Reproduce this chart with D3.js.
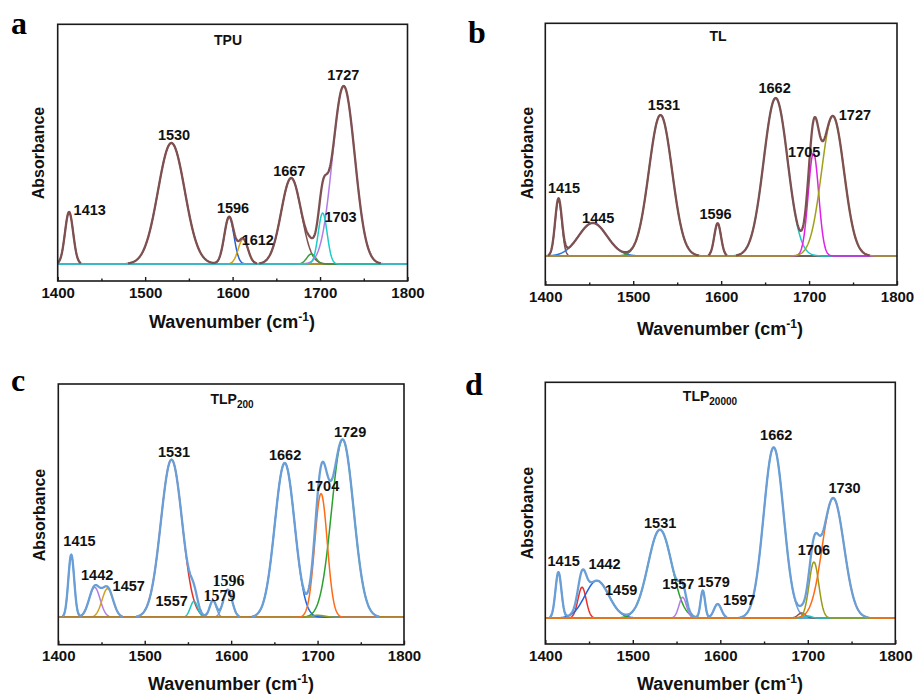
<!DOCTYPE html>
<html>
<head>
<meta charset="utf-8">
<script src="https://cdn.jsdelivr.net/npm/d3@7"></script>
<style>
  body { margin: 0; background: #fff; }
  svg { display: block; }
</style>
</head>
<body>
<svg id="chart" width="914" height="696"></svg>
<script>
// fitted bands for each sample: centre (cm-1), height (a.u.), FWHM (cm-1)
// the last band of each list is the one whose line shows along the baseline
const tpuCentres = [1413, 1530, 1596, 1612, 1667, 1690, 1727, 1703];
const tpuHeights = [0.52, 1.21, 0.47, 0.25, 0.86, 0.10, 1.78, 0.51];
const tpuWidths  = [11, 36, 13, 13, 27, 12, 30, 12];

const tlCentres = [1415, 1454, 1531, 1596, 1662, 1705, 1727];
const tlHeights = [0.56, 0.33, 1.41, 0.327, 1.58, 1.03, 1.40];
const tlWidths  = [9, 38, 31, 9, 32, 14, 30];

const tlp200Centres = [1415, 1442, 1457, 1531, 1557, 1579, 1596, 1662, 1729, 1700, 1704];
const tlp200Heights = [0.627, 0.30, 0.287, 1.577, 0.16, 0.167, 0.277, 1.543, 1.777, 0.02, 1.237];
const tlp200Widths  = [8, 15, 15, 29, 10, 9, 12, 27, 30, 20, 17];

const tlp20000Centres = [1415, 1442, 1459, 1531, 1557, 1580, 1597, 1661, 1693, 1700, 1707, 1729];
const tlp20000Heights = [0.457, 0.307, 0.373, 0.883, 0.207, 0.273, 0.14, 1.707, 0.05, 0.02, 0.56, 1.2];
const tlp20000Widths  = [8, 11, 32, 32, 10, 6, 10, 27, 10, 10, 13, 29];

// peak labels and where they sit (wavenumber, absorbance)
const tpuLabels = ["1413", "1530", "1596", "1612", "1667", "1703", "1727"];
const tpuLabelAt = [[1436.6, 0.49], [1533, 1.24], [1600.5, 0.507], [1628.8, 0.19], [1664.8, 0.883], [1723.4, 0.423], [1726.6, 1.84]];

const tlLabels = ["1415", "1445", "1531", "1596", "1662", "1705", "1727"];
const tlLabelAt = [[1421.3, 0.627], [1460.2, 0.333], [1535, 1.46], [1593.6, 0.367], [1660.8, 1.627], [1694.5, 0.993], [1752.1, 1.36]];

const tlp200Labels = ["1415", "1442", "1457", "1531", "1557", "1579", "1596", "1662", "1704", "1729"];
const tlp200LabelAt = [[1424.5, 0.71], [1445, 0.376], [1481.5, 0.266], [1533.9, 1.6], [1531.2, 0.11], [1586.6, 0.16], [1596.8, 0.31], [1662.4, 1.576], [1706.4, 1.266], [1737.6, 1.8]];

const tlp20000Labels = ["1415", "1442", "1459", "1531", "1557", "1579", "1597", "1662", "1706", "1730"];
const tlp20000LabelAt = [[1421, 0.517], [1467.7, 0.49], [1486.7, 0.227], [1531.3, 0.9], [1552, 0.293], [1592.4, 0.307], [1621.6, 0.127], [1663.9, 1.783], [1706.9, 0.627], [1742, 1.25]];

const majorTicks = [1400, 1500, 1600, 1700, 1800];
const minorTicks = [1450, 1550, 1650, 1750];

const brown = "#7f5050";
const lightBlue = "#6a9ed6";

const panels = [
  { letter: "a", title: "TPU", sub: "", left: 57.7, top: 24.3, right: 407.5, bottom: 281, base: 264,
    letterX: 11, letterY: 34, titleX: 228, titleY: 45, yTitleX: 44, yTitleY: 153, xTitleX: 232, xTitleY: 328,
    centres: tpuCentres, heights: tpuHeights, widths: tpuWidths, labels: tpuLabels, labelAt: tpuLabelAt,
    envelope: brown, serifLabels: [],
    colors: [brown, brown, "#2060d8", "#d4a010", brown, "#3a9a3a", "#b27ce6", "#1ccaca"] },
  { letter: "b", title: "TL", sub: "", left: 545.3, top: 23.3, right: 897, bottom: 285, base: 256,
    letterX: 468, letterY: 43, titleX: 718, titleY: 41, yTitleX: 533, yTitleY: 153, xTitleX: 720, xTitleY: 335,
    centres: tlCentres, heights: tlHeights, widths: tlWidths, labels: tlLabels, labelAt: tlLabelAt,
    envelope: brown, serifLabels: [],
    colors: [brown, "#2a78d8", "#3a9a3a", brown, "#18c8c8", "#e020e8", "#a0a018"] },
  { letter: "c", title: "TLP", sub: "200", left: 58.3, top: 384, right: 404, bottom: 644.7, base: 617.3,
    letterX: 11, letterY: 391, titleX: 232, titleY: 404, yTitleX: 45, yTitleY: 515, xTitleX: 231, xTitleY: 690,
    centres: tlp200Centres, heights: tlp200Heights, widths: tlp200Widths, labels: tlp200Labels, labelAt: tlp200LabelAt,
    envelope: lightBlue, serifLabels: ["1579", "1596"],
    colors: [lightBlue, "#b07ee2", "#d4a020", "#e8302a", "#1cc4c4", lightBlue, lightBlue, "#2068e0", "#2ca02c", "#8a9a20", "#ff6a14"] },
  { letter: "d", title: "TLP", sub: "20000", left: 545.3, top: 382.3, right: 895.3, bottom: 644, base: 618,
    letterX: 465, letterY: 395, titleX: 710, titleY: 401, yTitleX: 533, yTitleY: 513, xTitleX: 720, xTitleY: 690,
    centres: tlp20000Centres, heights: tlp20000Heights, widths: tlp20000Widths, labels: tlp20000Labels, labelAt: tlp20000LabelAt,
    envelope: lightBlue, serifLabels: [],
    colors: [lightBlue, "#e8302a", "#2060e0", "#2ca02c", "#b07ee2", lightBlue, lightBlue, lightBlue, "#8c564b", "#1cc4c4", "#9a9a18", "#ff6a14"] }
];

const svg = d3.select("#chart");
const sans = "'Liberation Sans', Arial, sans-serif";
const serif = "'Liberation Serif', 'Times New Roman', serif";

// sample grid across the plotted range
const grid = d3.range(1400, 1800.01, 0.5);

function band(c, h, w) {
  return v => h * Math.exp(-4 * Math.LN2 * ((v - c) / w) ** 2);
}

panels.forEach(p => {
  const g = svg.append("g");
  const x = d3.scaleLinear().domain([1400, 1800]).range([p.left, p.right]);
  const y = d3.scaleLinear().domain([0, 1]).range([p.base, p.base - 100]);

  const bands = p.centres.map((c, i) => band(c, p.heights[i], p.widths[i]));
  const line = d3.line().x(d => x(d[0])).y(d => y(d[1]));

  // component bands
  bands.forEach((f, i) => {
    g.append("path")
      .attr("d", line(grid.map(v => [v, f(v)])))
      .attr("fill", "none")
      .attr("stroke", p.colors[i])
      .attr("stroke-width", 1.5);
  });

  // fitted envelope, left off where it lies on the baseline
  const env = grid.map(v => [v, d3.sum(bands, f => f(v))]);
  g.append("path")
    .attr("d", d3.line().defined(d => d[1] > 0.006).x(d => x(d[0])).y(d => y(d[1]))(env))
    .attr("fill", "none")
    .attr("stroke", p.envelope)
    .attr("stroke-width", 2.3)
    .attr("stroke-linejoin", "round");

  // frame
  g.append("rect")
    .attr("x", p.left).attr("y", p.top)
    .attr("width", p.right - p.left).attr("height", p.bottom - p.top)
    .attr("fill", "none").attr("stroke", "#1a1a1a").attr("stroke-width", 1.6);

  // bottom axis, ticks pointing inward
  const ax = g.append("g").attr("transform", `translate(0,${p.bottom})`)
    .call(d3.axisBottom(x).tickValues(majorTicks).tickSize(-4).tickPadding(6).tickFormat(d3.format("d")));
  ax.select(".domain").remove();
  ax.selectAll("line").attr("stroke", "#1a1a1a").attr("stroke-width", 1.4);
  ax.selectAll("text").attr("font-family", sans).attr("font-weight", "bold")
    .attr("font-size", 15).attr("fill", "#111");

  const mx = g.append("g").attr("transform", `translate(0,${p.bottom})`)
    .call(d3.axisBottom(x).tickValues(minorTicks).tickSize(-2.5).tickFormat(""));
  mx.select(".domain").remove();
  mx.selectAll("line").attr("stroke", "#1a1a1a").attr("stroke-width", 1.4);

  // peak labels
  g.selectAll(".peak")
    .data(p.labels)
    .join("text")
    .attr("class", "peak")
    .attr("x", (d, i) => x(p.labelAt[i][0]))
    .attr("y", (d, i) => y(p.labelAt[i][1]))
    .attr("text-anchor", "middle")
    .attr("font-family", d => p.serifLabels.includes(d) ? serif : sans)
    .attr("font-weight", "bold")
    .attr("font-size", d => p.serifLabels.includes(d) ? 16 : 14.5)
    .attr("fill", "#111")
    .text(d => d);

  // sample name
  const t = g.append("text")
    .attr("x", p.titleX).attr("y", p.titleY)
    .attr("text-anchor", "middle")
    .attr("font-family", sans).attr("font-weight", "bold")
    .attr("font-size", 14).attr("fill", "#111")
    .text(p.title);
  if (p.sub) {
    t.append("tspan").attr("font-size", 10).attr("dy", 4).text(p.sub);
  }

  // panel letter
  g.append("text")
    .attr("x", p.letterX).attr("y", p.letterY)
    .attr("font-family", serif).attr("font-weight", "bold")
    .attr("font-size", 32).attr("fill", "#000")
    .text(p.letter);

  // axis titles
  g.append("text")
    .attr("transform", `translate(${p.yTitleX},${p.yTitleY}) rotate(-90)`)
    .attr("text-anchor", "middle")
    .attr("font-family", sans).attr("font-weight", "bold")
    .attr("font-size", 16).attr("fill", "#111")
    .text("Absorbance");

  const xt = g.append("text")
    .attr("x", p.xTitleX).attr("y", p.xTitleY)
    .attr("text-anchor", "middle")
    .attr("font-family", sans).attr("font-weight", "bold")
    .attr("font-size", 18).attr("fill", "#111");
  xt.append("tspan").text("Wavenumber (cm");
  xt.append("tspan").attr("font-size", 12).attr("dy", -7).text("-1");
  xt.append("tspan").attr("dy", 7).text(")");
});
</script>
</body>
</html>
